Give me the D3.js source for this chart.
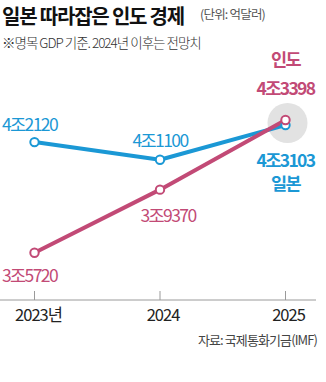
<!DOCTYPE html>
<html><head><meta charset="utf-8">
<script src="https://cdn.jsdelivr.net/npm/d3@7"></script>
<style>
html,body{margin:0;padding:0;background:#fff;}
svg{display:block;font-family:"Noto Sans CJK KR","Noto Sans",sans-serif;}
</style></head>
<body>
<svg id="c" width="326" height="382"></svg>
<script>
const years = ["2023", "2024", "2025"];
const tickLabels = ["2023년", "2024", "2025"];
const japan = [42120, 41100, 43103];
const india = [35720, 39370, 43398];
const japanLabels = ["4조2120", "4조1100", "4조3103"];
const indiaLabels = ["3조5720", "3조9370", "4조3398"];

const BLUE = "#1b98d5", PINK = "#c24a76";
const svg = d3.select("#c");

const x = d3.scalePoint().domain(years).range([34.5, 285.5]);
const y = d3.scaleLinear().domain([35000, 44000]).range([265.2, 109.6]);

// title
svg.append("text").attr("x", 2).attr("y", 24).attr("font-size", 20).attr("font-weight", 700)
  .attr("letter-spacing", -1.2).attr("fill", "#111").text("일본 따라잡은 인도 경제");
svg.append("text").attr("x", 200).attr("y", 19).attr("font-size", 12.5).attr("fill", "#555")
  .attr("letter-spacing", -0.8).text("(단위: 억달러)");
svg.append("text").attr("x", 2).attr("y", 48).attr("font-size", 13.5).attr("fill", "#333").attr("font-weight", 300)
  .attr("letter-spacing", -1).text("※명목 GDP 기준. 2024년 이후는 전망치");

// highlight circle
svg.append("circle").attr("cx", x("2025") + 2).attr("cy", 123).attr("r", 20).attr("fill", "#e2e2e2");

// axis
const axisY = 300;
svg.append("line").attr("x1", 0).attr("x2", 316).attr("y1", axisY).attr("y2", axisY)
  .attr("stroke", "#9a9a9a").attr("stroke-width", 1);
svg.selectAll(".tick").data(years).join("line")
  .attr("x1", d => x(d)).attr("x2", d => x(d)).attr("y1", axisY - 9).attr("y2", axisY)
  .attr("stroke", "#9a9a9a").attr("stroke-width", 1);
svg.selectAll(".tl").data(years).join("text")
  .attr("x", (d, i) => x(d) + (i === 0 ? 4 : 3)).attr("y", 321).attr("text-anchor", "middle")
  .attr("font-size", 16.5).attr("fill", "#222").attr("letter-spacing", -1)
  .text((d, i) => tickLabels[i]);

// source
svg.append("text").attr("x", 317).attr("y", 345).attr("text-anchor", "end").attr("font-size", 13)
  .attr("fill", "#444").attr("letter-spacing", -0.9).text("자료: 국제통화기금(IMF)");

const line = d3.line().x((d, i) => x(years[i])).y(d => y(d));

function series(vals, color) {
  svg.append("path").attr("d", line(vals)).attr("fill", "none").attr("stroke", color)
    .attr("stroke-width", 4).attr("stroke-linejoin", "round");
}
series(japan, BLUE);
series(india, PINK);
function dots(vals, color) {
  svg.selectAll(null).data(vals).join("circle")
    .attr("cx", (d, i) => x(years[i])).attr("cy", d => y(d)).attr("r", 4.2)
    .attr("fill", "#fff").attr("stroke", color).attr("stroke-width", 2);
}
dots(japan, BLUE);
dots(india, PINK);

// value labels
const lab = (tx, ty, txt, color, anchor, weight, size) =>
  svg.append("text").attr("x", tx).attr("y", ty).attr("text-anchor", anchor || "middle")
    .attr("font-size", size || 17.5).attr("font-weight", weight || 400).attr("fill", color)
    .attr("letter-spacing", -1.6).text(txt);

lab(2, 131, japanLabels[0], BLUE, "start");
lab(x("2024"), 147, japanLabels[1], BLUE);
lab(x("2025"), 167, japanLabels[2], BLUE, "middle", 600);
lab(x("2025"), 190, "일본", BLUE, "middle", 700, 17.5);

lab(2, 282, indiaLabels[0], PINK, "start");
lab(x("2024") + 8, 222, indiaLabels[1], PINK);
lab(x("2025"), 95, indiaLabels[2], PINK, "middle", 600);
lab(x("2025"), 66, "인도", PINK, "middle", 700, 17.5);
</script>
</body></html>
